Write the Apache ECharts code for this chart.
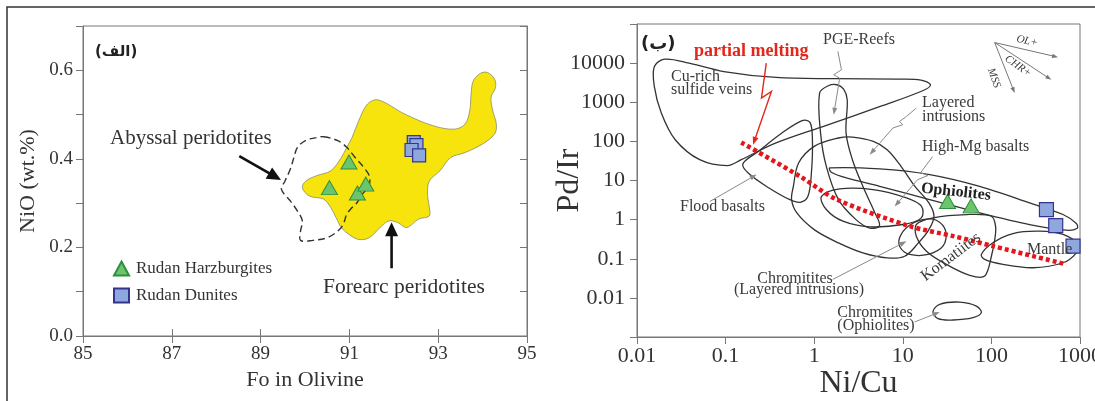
<!DOCTYPE html>
<html>
<head>
<meta charset="utf-8">
<script src="https://cdn.jsdelivr.net/npm/echarts@6/dist/echarts.min.js"></script>
<style>html,body{margin:0;padding:0;background:#fff}#c{width:1095px;height:401px}</style>
</head>
<body>
<div id="c"></div>
<script>
// ---------------- DATA: left panel (NiO vs Fo) ----------------
const foTicks = [85, 87, 89, 91, 93, 95];
const forearcField = [[91.65,0.533],[92.25,0.501],[92.88,0.475],[93.36,0.467],[93.60,0.478],[93.71,0.508],[93.74,0.546],[93.79,0.576],[93.95,0.593],[94.11,0.595],[94.27,0.580],[94.29,0.561],[94.19,0.539],[94.23,0.508],[94.31,0.478],[94.27,0.456],[93.99,0.433],[93.60,0.414],[93.28,0.403],[93.04,0.373],[92.80,0.350],[92.76,0.320],[92.80,0.290],[92.80,0.271],[92.56,0.264],[92.29,0.245],[92.09,0.256],[91.89,0.260],[91.69,0.245],[91.45,0.222],[91.21,0.218],[90.98,0.230],[90.82,0.245],[90.70,0.267],[90.58,0.290],[90.42,0.309],[90.10,0.316],[89.94,0.335],[90.02,0.350],[90.26,0.362],[90.58,0.373],[90.82,0.403],[90.94,0.426],[91.06,0.448],[91.21,0.486],[91.41,0.524]];
const abyssalField = [[90.42,0.450],[90.74,0.441],[90.94,0.426],[91.13,0.403],[91.33,0.380],[91.45,0.361],[91.44,0.339],[91.29,0.320],[91.17,0.301],[91.06,0.290],[90.94,0.275],[90.86,0.252],[90.74,0.237],[90.50,0.222],[90.18,0.216],[89.90,0.216],[89.90,0.237],[89.94,0.260],[89.83,0.282],[89.67,0.305],[89.47,0.331],[89.55,0.350],[89.67,0.377],[89.75,0.403],[89.83,0.426],[90.02,0.442],[90.26,0.448]];
const harzNiO = [[90.99,0.393],[90.55,0.335],[91.18,0.323],[91.37,0.343]];
const duniteNiO = [[92.45,0.438],[92.51,0.431],[92.40,0.420],[92.57,0.408]];
const abyssalArrow = [[88.52,0.406],[89.46,0.352]];
const forearcArrow = [[91.95,0.153],[91.95,0.257]];

// ---------------- DATA: right panel (Pd/Ir vs Ni/Cu) ----------------
const niCuTicks = [0.01, 0.1, 1, 10, 100, 1000];
const pdIrTicks = [0.01, 0.1, 1, 10, 100, 1000, 10000];
const cuRichField = [[0.0157,8200],[0.0206,12600],[0.0387,10000],[0.0955,6100],[0.371,4300],[1.72,4000],[8.7,3900],[16,3700],[20.5,2800],[17,2000],[5.56,780],[1.4,260],[0.371,91],[0.15,34],[0.105,24],[0.051,34],[0.027,110],[0.0188,530],[0.0157,2500]];
const pgeField = [[1.44,2640],[1.15,1710],[1.18,163],[1.37,23],[1.88,3.24],[2.96,1.0],[4.24,0.61],[5.46,0.70],[4.85,1.48],[3.54,7.1],[2.70,34],[2.29,163],[2.36,1160],[2.15,2170],[1.80,2800]];
const floodField = [[0.157,27],[0.236,56],[0.406,148],[0.73,340],[0.897,305],[0.955,110],[0.93,15.5],[0.85,3.94],[0.696,2.77],[0.531,3.24],[0.309,6.44],[0.18,15.5]];
const layeredField = [[0.582,7.1],[0.667,28],[1.0,74.5],[1.88,122],[2.70,129],[4.65,100],[6.66,61],[9.55,23],[13.7,7.1],[19.7,2.67],[22.5,1.22],[19.7,0.556],[15,0.254],[10.5,0.116],[6.66,0.105],[3.54,0.141],[1.88,0.254],[1.0,0.556],[0.637,1.48],[0.556,3.24]];
const highMgField = [[1.21,3.95],[1.94,6.1],[4.61,5.86],[11,3.6],[16.2,2.2],[16.2,1.11],[10,0.75],[4.23,0.655],[2.11,0.91],[1.37,1.81]];
const ophioliteField = [[1.50,20.9],[5.48,19.8],[20.1,14.2],[73.8,7.1],[270,2.68],[643,1.35],[910,0.794],[933,0.604],[701,0.537],[270,0.75],[73.8,1.49],[20.1,3.26],[5.48,7.1],[2.31,11.6],[1.56,16.2]];
const komatiiteField = [[14.2,0.75],[21.9,1.11],[52.2,1.35],[100,1.22],[112,0.558],[100,0.116],[84,0.036],[57,0.0375],[31,0.0716],[18.5,0.156],[14.2,0.378]];
const chromLayeredField = [[9.2,0.344],[11.5,0.68],[16.9,1.0],[23.9,0.966],[30.5,0.506],[28.4,0.209],[19.2,0.129],[12,0.129],[9.4,0.191]];
const mantleField = [[77,0.129],[104,0.256],[175,0.441],[351,0.506],[643,0.417],[948,0.232],[910,0.142],[643,0.079],[294,0.0589],[135,0.0716],[84,0.096]];
const chromOphField = [[21.9,0.00445],[26.1,0.00682],[43.8,0.00781],[67.7,0.00618],[77,0.00419],[62,0.00313],[36.9,0.00272],[25,0.00294]];
const meltingTrend = [[0.15,94],[0.69,12.8],[1.78,3.3],[12,0.68],[37,0.38],[104,0.21],[700,0.072]];
const harzPd = [[32,2.9],[59,2.25]];
const dunitePd = [[418,1.81],[532,0.706],[834,0.209]];
const meltArrow = [[0.288,10000],[0.254,1280],[0.329,1890],[0.204,82]];
const pgeArrow = [[1.85,20000],[2.03,6750],[1.66,5040],[1.94,4140],[1.66,480]];
const layeredArrow = [[14.2,711],[11,434],[9.2,324],[10,267],[7.74,220],[4.23,45.8]];
const highMgArrow = [[21.7,40.7],[15.9,15.9],[19.1,13.3],[14.7,10.5],[8.09,2.16]];
const floodArrow = [[0.0663,2.9],[0.224,14.2]];
const chromLayArrow = [[1.62,0.0296],[11,0.281]];
const chromOphArrow = [[13.6,0.00242],[26.1,0.00435]];
const olArrow = [[109,33600],[565,14200]];
const chrArrow = [[109,33600],[475,3750]];
const mssArrow = [[109,33600],[183,1718]];

// ---------------- helpers ----------------
const SERIF = "'Liberation Serif','DejaVu Serif',serif";
const TXT = '#333';
const AX = '#777';
const L = 0, R = 2; // axis indices of left panel and right panel

function polySeries(pts, ai, style, smooth, z) {
  return {
    type: 'custom', xAxisIndex: ai, yAxisIndex: ai, silent: true, z: z || 2,
    data: [pts[0]],
    renderItem: function (params, api) {
      return { type: 'polygon', shape: { points: pts.map(function (p) { return api.coord(p); }), smooth: smooth }, style: style };
    }
  };
}
function arrowSeries(pts, ai, color, width, hl, hw, z) {
  return {
    type: 'custom', xAxisIndex: ai, yAxisIndex: ai, silent: true, z: z || 4,
    data: [pts[0]],
    renderItem: function (params, api) {
      const c = pts.map(function (p) { return api.coord(p); });
      const a = c[c.length - 2], b = c[c.length - 1];
      const dx = b[0] - a[0], dy = b[1] - a[1], len = Math.hypot(dx, dy);
      const ux = dx / len, uy = dy / len;
      const bx = b[0] - ux * hl, by = b[1] - uy * hl;
      const line = c.slice(0, -1).concat([[b[0] - ux * hl * 0.7, b[1] - uy * hl * 0.7]]);
      return { type: 'group', children: [
        { type: 'polyline', shape: { points: line }, style: { stroke: color, lineWidth: width, fill: null } },
        { type: 'polygon', shape: { points: [b, [bx - uy * hw, by + ux * hw], [bx + uy * hw, by - ux * hw]] }, style: { fill: color } }
      ] };
    }
  };
}
function txt(x, y, text, o) {
  o = o || {};
  return {
    type: 'text', x: x, y: y, rotation: (o.rot || 0) * Math.PI / 180, z: 100,
    style: {
      text: text, fill: o.color || '#3a3a3a', align: o.align || 'left', verticalAlign: 'middle',
      font: (o.italic ? 'italic ' : '') + (o.bold ? 'bold ' : '') + (o.size || 16) + 'px ' + (o.family || SERIF)
    }
  };
}

const lineStyleField = { stroke: '#333', lineWidth: 1.3, fill: null };

const option = {
  animation: false,
  backgroundColor: '#fff',
  textStyle: { fontFamily: SERIF },
  grid: [
    { left: 83, top: 26, width: 444, height: 310, show: true, borderColor: AX, borderWidth: 1, backgroundColor: 'transparent', outerBoundsMode: 'none', containLabel: false },
    { left: 637, top: 24, width: 443, height: 313, show: true, borderColor: AX, borderWidth: 1, backgroundColor: 'transparent', outerBoundsMode: 'none', containLabel: false }
  ],
  xAxis: [
    { gridIndex: 0, type: 'value', min: 85, max: 95, interval: 2, position: 'bottom',
      axisLine: { lineStyle: { color: AX } }, axisTick: { inside: true, length: 7, lineStyle: { color: AX } },
      splitLine: { show: false },
      axisLabel: { color: TXT, fontFamily: SERIF, fontSize: 19, margin: 9, showMinLabel: true, showMaxLabel: true,
        formatter: function (v) { return foTicks.indexOf(Math.round(v)) >= 0 ? String(Math.round(v)) : ''; } },
      name: 'Fo in Olivine', nameLocation: 'middle', nameGap: 33, nameMoveOverlap: false,
      nameTextStyle: { color: TXT, fontFamily: SERIF, fontSize: 22 } },
    { gridIndex: 0, type: 'value', min: 85, max: 95, interval: 2, position: 'top',
      axisLine: { lineStyle: { color: AX } }, axisTick: { inside: true, length: 7, lineStyle: { color: AX } },
      splitLine: { show: false }, axisLabel: { show: false } },
    { gridIndex: 1, type: 'log', logBase: 10, min: 0.01, max: 1000, splitNumber: 5, position: 'bottom',
      axisLine: { lineStyle: { color: AX } }, axisTick: { inside: false, length: 7, lineStyle: { color: AX } },
      splitLine: { show: false }, minorTick: { show: false },
      axisLabel: { color: TXT, fontFamily: SERIF, fontSize: 22, margin: 8, showMinLabel: true, showMaxLabel: true,
        formatter: function (v) { const r = +(+v).toPrecision(3); return niCuTicks.indexOf(r) >= 0 ? String(r) : ''; } },
      name: 'Ni/Cu', nameLocation: 'middle', nameGap: 31, nameMoveOverlap: false,
      nameTextStyle: { color: TXT, fontFamily: SERIF, fontSize: 32 } }
  ],
  yAxis: [
    { gridIndex: 0, type: 'value', min: 0, max: 0.7, interval: 0.1, position: 'left',
      axisLine: { show: true, lineStyle: { color: AX } }, axisTick: { show: true, inside: false, length: 7, lineStyle: { color: AX } },
      splitLine: { show: false },
      axisLabel: { color: TXT, fontFamily: SERIF, fontSize: 19, margin: 10,
        formatter: function (v) { const k = Math.round(v * 10); return k % 2 === 0 ? (k / 10).toFixed(1) : ''; } },
      name: 'NiO (wt.%)', nameLocation: 'middle', nameGap: 44, nameMoveOverlap: false,
      nameTextStyle: { color: TXT, fontFamily: SERIF, fontSize: 22 } },
    { gridIndex: 0, type: 'value', min: 0, max: 0.7, interval: 0.1, position: 'right',
      axisLine: { show: true, lineStyle: { color: AX } }, axisTick: { show: true, inside: true, length: 7, lineStyle: { color: AX } },
      splitLine: { show: false }, axisLabel: { show: false } },
    { gridIndex: 1, type: 'log', logBase: 10, min: 0.001, max: 100000, splitNumber: 8, position: 'left',
      axisLine: { show: true, lineStyle: { color: AX } }, axisTick: { show: true, inside: false, length: 7, lineStyle: { color: AX } },
      splitLine: { show: false }, minorTick: { show: false },
      axisLabel: { color: TXT, fontFamily: SERIF, fontSize: 22, margin: 12,
        formatter: function (v) { const r = +(+v).toPrecision(3); return pdIrTicks.indexOf(r) >= 0 ? String(r) : ''; } },
      name: 'Pd/Ir', nameLocation: 'middle', nameGap: 51, nameMoveOverlap: false,
      nameTextStyle: { color: TXT, fontFamily: SERIF, fontSize: 32 } }
  ],
  legend: {
    orient: 'vertical', left: 108, top: 255, itemWidth: 15, itemHeight: 14, itemGap: 10,
    data: ['Rudan Harzburgites', 'Rudan Dunites'],
    textStyle: { color: TXT, fontFamily: SERIF, fontSize: 17, padding: [0, 0, 0, 2] }, selectedMode: false
  },
  series: [
    // left panel
    polySeries(forearcField, L, { fill: '#f7e40c', stroke: '#8a8a6a', lineWidth: 0.8 }, 0.35, 2),
    polySeries(abyssalField, L, { fill: null, stroke: '#333', lineWidth: 1.4, lineDash: [7, 4] }, 0.35, 3),
    arrowSeries(abyssalArrow, L, '#111', 2.6, 14, 6.5, 4),
    arrowSeries(forearcArrow, L, '#111', 2.6, 14, 6.5, 4),
    { name: 'Rudan Harzburgites', type: 'scatter', xAxisIndex: L, yAxisIndex: L, symbol: 'triangle', symbolSize: [16, 14], z: 10,
      data: harzNiO, itemStyle: { color: '#6cc46c', borderColor: '#2f8f3c', borderWidth: 1, opacity: 1 } },
    { name: 'Rudan Dunites', type: 'scatter', xAxisIndex: L, yAxisIndex: L, symbol: 'rect', symbolSize: 13, z: 10,
      data: duniteNiO, itemStyle: { color: '#8ea7dc', borderColor: '#34348f', borderWidth: 1.2, opacity: 1 } },
    // right panel fields
    polySeries(cuRichField, R, lineStyleField, 0.35, 3),
    polySeries(pgeField, R, lineStyleField, 0.35, 3),
    polySeries(floodField, R, lineStyleField, 0.35, 3),
    polySeries(layeredField, R, lineStyleField, 0.35, 3),
    polySeries(highMgField, R, lineStyleField, 0.35, 3),
    polySeries(ophioliteField, R, lineStyleField, 0.3, 3),
    polySeries(komatiiteField, R, lineStyleField, 0.3, 3),
    polySeries(chromLayeredField, R, lineStyleField, 0.35, 3),
    polySeries(mantleField, R, lineStyleField, 0.35, 3),
    polySeries(chromOphField, R, lineStyleField, 0.35, 3),
    { type: 'line', xAxisIndex: R, yAxisIndex: R, data: meltingTrend, smooth: 0.3, showSymbol: false, silent: true, z: 6,
      lineStyle: { color: '#e5161b', width: 4.5, type: [4, 3] } },
    arrowSeries(meltArrow, R, '#e5261b', 1.4, 8, 3, 5),
    arrowSeries(pgeArrow, R, '#8a8a8a', 1, 7, 2.5, 5),
    arrowSeries(layeredArrow, R, '#8a8a8a', 1, 7, 2.5, 5),
    arrowSeries(highMgArrow, R, '#8a8a8a', 1, 7, 2.5, 5),
    arrowSeries(floodArrow, R, '#8a8a8a', 1, 7, 2.5, 5),
    arrowSeries(chromLayArrow, R, '#8a8a8a', 1, 7, 2.5, 5),
    arrowSeries(chromOphArrow, R, '#8a8a8a', 1, 7, 2.5, 5),
    arrowSeries(olArrow, R, '#777', 1, 6, 2.2, 5),
    arrowSeries(chrArrow, R, '#777', 1, 6, 2.2, 5),
    arrowSeries(mssArrow, R, '#777', 1, 6, 2.2, 5),
    { name: 'Rudan Harzburgites', type: 'scatter', xAxisIndex: R, yAxisIndex: R, symbol: 'triangle', symbolSize: [16, 14], z: 10,
      data: harzPd, itemStyle: { color: '#6cc46c', borderColor: '#2f8f3c', borderWidth: 1, opacity: 1 } },
    { name: 'Rudan Dunites', type: 'scatter', xAxisIndex: R, yAxisIndex: R, symbol: 'rect', symbolSize: 14, z: 10,
      data: dunitePd, itemStyle: { color: '#8ea7dc', borderColor: '#34348f', borderWidth: 1.2, opacity: 1 } }
  ],
  graphic: [
    { type: 'rect', shape: { x: 7, y: 7, width: 2000, height: 1000 }, style: { fill: 'none', stroke: '#333', lineWidth: 1.5 }, z: 100 },
    txt(95, 52, '(الف)', { bold: true, size: 15, family: "'DejaVu Sans',sans-serif", color: '#222' }),
    txt(110, 138, 'Abyssal peridotites', { size: 21, color: TXT }),
    txt(323, 287, 'Forearc peridotites', { size: 21.5, color: TXT }),
    txt(641, 44, '(ب)', { bold: true, size: 18, family: "'DejaVu Sans',sans-serif", color: '#222' }),
    txt(694, 51, 'partial melting', { bold: true, size: 18, color: '#e5261b' }),
    txt(823, 40, 'PGE-Reefs', {}),
    txt(671, 77, 'Cu-rich', {}),
    txt(671, 90, 'sulfide veins', {}),
    txt(922, 103, 'Layered', {}),
    txt(922, 117, 'intrusions', {}),
    txt(922, 147, 'High-Mg basalts', {}),
    txt(956, 192, 'Ophiolites', { bold: true, align: 'center', rot: -6, color: '#222' }),
    txt(680, 207, 'Flood basalts', {}),
    txt(795, 279, 'Chromitites', { align: 'center' }),
    txt(799, 290, '(Layered intrusions)', { align: 'center' }),
    txt(875, 313, 'Chromitites', { align: 'center' }),
    txt(876, 326, '(Ophiolites)', { align: 'center' }),
    txt(951, 257, 'Komatiites', { align: 'center', rot: 37 }),
    txt(1027, 250, 'Mantle', {}),
    txt(1027, 41, 'OL+', { italic: true, size: 11, align: 'center', rot: -13 }),
    txt(1018, 66, 'CHR+', { italic: true, size: 11, align: 'center', rot: -35 }),
    txt(994, 78, 'MSS', { italic: true, size: 11, align: 'center', rot: -70 })
  ]
};

const chart = echarts.init(document.getElementById('c'), null, { renderer: 'canvas' });
chart.setOption(option);
</script>
</body>
</html>
